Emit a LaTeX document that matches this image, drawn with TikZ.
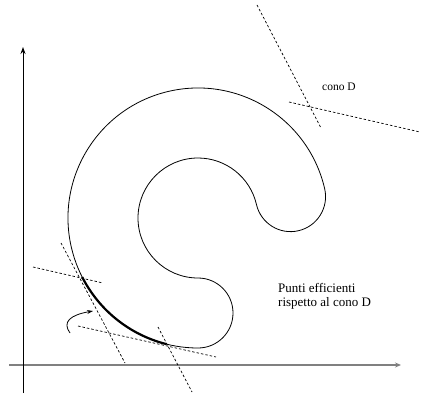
\documentclass[tikz,border=0pt]{standalone}
\usepackage{fontspec}
\setmainfont{Liberation Serif}
\usetikzlibrary{arrows.meta,calc}
\begin{document}
\begin{tikzpicture}[x=1pt,y=1pt,
  curve/.style={line width=0.8pt},
  cone/.style={line width=0.7pt, dash pattern=on 2.5pt off 2pt},
  lbl/.style={inner sep=0pt, font=\fontsize{13}{14.5}\selectfont},
  lbls/.style={inner sep=0pt, font=\fontsize{11.5}{13}\selectfont}]
\useasboundingbox (0,0) rectangle (422,394);
% axes
\coordinate (xs) at (9,29);
\coordinate (xe) at (401,29);
\coordinate (ys) at (23,1);
\coordinate (ye) at (23,347);
\draw[line width=1.6pt, gray, -{Stealth[length=6pt,width=5pt]}] (xs) -- (xe);
\draw[line width=0.9pt, -{Stealth[length=7pt,width=5pt]}] (ys) -- (ye);
% C-shaped set
\coordinate (C) at (198,176);
\draw[curve] ($(C)+(13:130)$) arc[start angle=13, end angle=270, radius=130]
  arc[start angle=-90, end angle=90, radius=35]
  arc[start angle=270, end angle=13, radius=60]
  arc[start angle=193, end angle=373, radius=35] -- cycle;
% efficient points
\draw[line width=2.2pt] ($(C)+(207:130)$) arc[start angle=207, end angle=256, radius=130];
% cone D (top right)
\coordinate (d1a) at (257,389); \coordinate (d1b) at (321,266);
\coordinate (d2a) at (289,292); \coordinate (d2b) at (420,262);
\draw[cone] (d1a) -- (d1b);
\draw[cone] (d2a) -- (d2b);
\node[lbls, anchor=west] (cono) at (322,307) {cono D};
% cones at the efficient points
\coordinate (aA) at (61,151); \coordinate (bA) at (125,31);
\coordinate (aB) at (33,127); \coordinate (bB) at (103,111);
\coordinate (aC) at (78,68);  \coordinate (bC) at (216,37);
\coordinate (aD) at (158,67); \coordinate (bD) at (192,2);
\draw[cone] (aA) -- (bA);
\draw[cone] (aB) -- (bB);
\draw[cone] (aC) -- (bC);
\draw[cone] (aD) -- (bD);
% curved arrow
\coordinate (ar0) at (70,61);
\coordinate (ar1) at (93,83);
\draw[line width=0.8pt, -{Stealth[length=6pt,width=4pt]}] (ar0) .. controls (62,72) and (70,79) .. (ar1);
% label
\node[lbl, anchor=north west, align=left] (eff) at (278,111) {Punti efficienti\\rispetto al cono D};
\end{tikzpicture}
\end{document}
